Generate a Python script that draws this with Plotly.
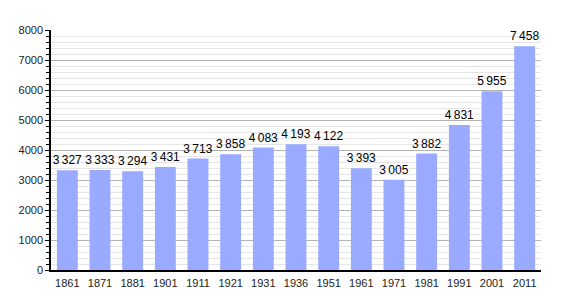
import plotly.graph_objects as go

years = ["1861", "1871", "1881", "1901", "1911", "1921", "1931", "1936", "1951",
         "1961", "1971", "1981", "1991", "2001", "2011"]
population = [3327, 3333, 3294, 3431, 3713, 3858, 4083, 4193, 4122,
              3393, 3005, 3882, 4831, 5955, 7458]
labels = [f"{v:,}".replace(",", "\u2009") for v in population]

fig = go.Figure(go.Bar(
    x=years, y=population, text=labels, textposition="outside",
    textfont=dict(family="Liberation Sans, Arial", size=12, color="#000"),
    marker=dict(color="#99aaff", line=dict(width=0)),
    width=0.64, cliponaxis=False, constraintext="none",
))

fig.update_layout(
    width=570, height=300,
    margin=dict(l=51, r=29, t=30, b=30),
    paper_bgcolor="white", plot_bgcolor="white",
    showlegend=False,
    font=dict(family="Liberation Sans, Arial", size=11, color="#222"),
)
fig.update_xaxes(
    type="category", showline=True, linecolor="#000", linewidth=1.5,
    ticks="", showgrid=False, tickfont=dict(size=11), ticklabelstandoff=2,
)
fig.update_yaxes(
    range=[0, 8000], dtick=1000, showline=True, linecolor="#000", linewidth=1.5,
    ticks="outside", ticklen=4, tickcolor="#000", tickwidth=1,
    showgrid=True, gridcolor="#b4b4b4", gridwidth=1,
    zeroline=False, tickfont=dict(size=11),
    minor=dict(dtick=200, ticks="outside", ticklen=3, tickcolor="#000",
               showgrid=True, gridcolor="#e6e6e6", gridwidth=1),
)

fig.write_html("out.html")
